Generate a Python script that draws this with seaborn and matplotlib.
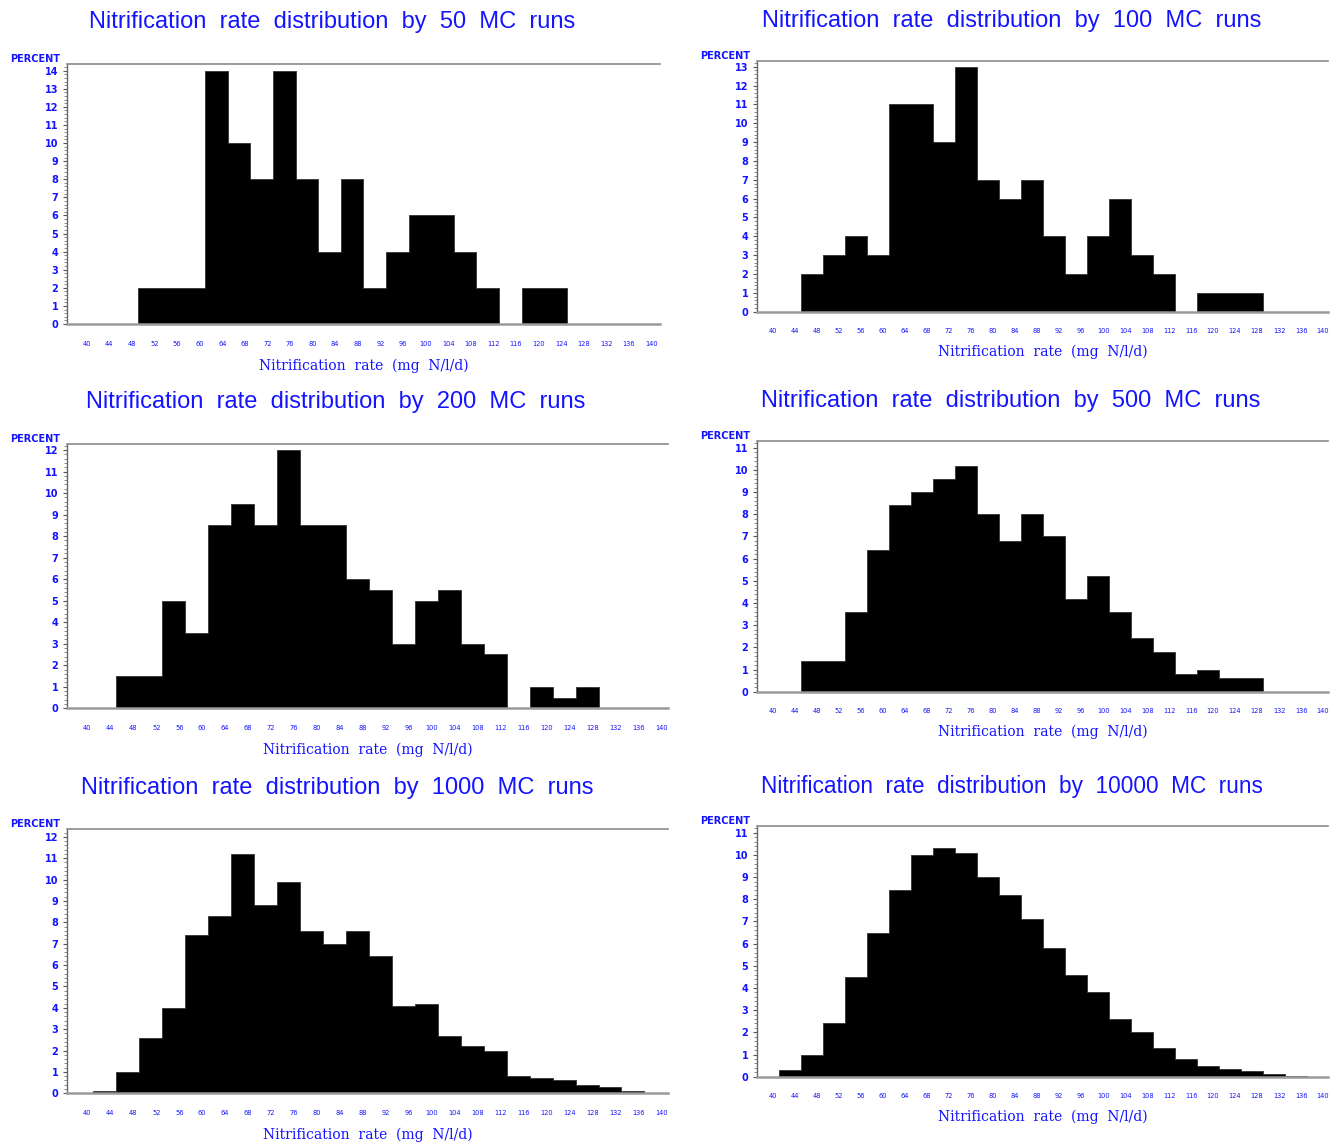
import numpy as np
import pandas as pd
import matplotlib
matplotlib.use("Agg")
import matplotlib.pyplot as plt
from matplotlib.ticker import AutoMinorLocator
import seaborn as sns

# Bin labels on the x axis (mg N/l/d), one bar per label
bin_labels = list(range(40, 144, 4))

# Percent of Monte Carlo runs falling in each bin, by number of runs
pct_50 = [0, 0, 2, 2, 2, 14, 10, 8, 14, 8, 4, 8, 2, 4, 6, 6, 4, 2, 0, 2, 2, 0, 0, 0, 0, 0]
pct_100 = [0, 2, 3, 4, 3, 11, 11, 9, 13, 7, 6, 7, 4, 2, 4, 6, 3, 2, 0, 1, 1, 1, 0, 0, 0, 0]
pct_200 = [0, 1.5, 1.5, 5, 3.5, 8.5, 9.5, 8.5, 12, 8.5, 8.5, 6, 5.5, 3, 5, 5.5, 3, 2.5, 0,
           1, 0.5, 1, 0, 0, 0, 0]
pct_500 = [0, 1.4, 1.4, 3.6, 6.4, 8.4, 9.0, 9.6, 10.2, 8.0, 6.8, 8.0, 7.0, 4.2, 5.2, 3.6,
           2.4, 1.8, 0.8, 1.0, 0.6, 0.6, 0, 0, 0, 0]
pct_1000 = [0.1, 1.0, 2.6, 4.0, 7.4, 8.3, 11.2, 8.8, 9.9, 7.6, 7.0, 7.6, 6.4, 4.1, 4.2, 2.7,
            2.2, 2.0, 0.8, 0.7, 0.6, 0.4, 0.3, 0.1, 0, 0]
pct_10000 = [0.3, 1.0, 2.4, 4.5, 6.5, 8.4, 10.0, 10.3, 10.1, 9.0, 8.2, 7.1, 5.8, 4.6, 3.8,
             2.6, 2.0, 1.3, 0.8, 0.5, 0.35, 0.25, 0.1, 0.05, 0, 0]

runs = [50, 100, 200, 500, 1000, 10000]
series = [pct_50, pct_100, pct_200, pct_500, pct_1000, pct_10000]
y_max = [14, 13, 12, 11, 12, 11]

sns.set_style("white")
plt.rcParams["font.family"] = ["DejaVu Sans"]

BLUE = "#1414ff"
W, H = 1338, 1144
fig = plt.figure(figsize=(W / 100, H / 100), dpi=100)

# axes boxes in pixels: left, top, right, bottom
boxes = [
    (66.7, 64.0, 660.0, 324.0),
    (756.7, 60.7, 1328.0, 311.7),
    (66.7, 444.0, 668.0, 708.3),
    (756.7, 440.7, 1328.0, 691.7),
    (66.7, 829.3, 668.0, 1093.3),
    (756.7, 825.7, 1328.0, 1076.7),
]
xlims = [(36.46, 141.5), (37.0, 140.9), (36.4, 141.1), (37.0, 140.9), (36.4, 141.1), (37.0, 140.9)]
ytop_pad = [0.37, 0.32, 0.28, 0.32, 0.35, 0.32]
title_xy = [(332, 22), (1012, 21), (336, 402), (1011, 401), (337, 788), (1012, 787)]
title_size = [17, 17, 17, 17, 17, 16.3]
xlabel_y = [366, 352, 750, 732, 1135, 1117]

labels = np.array(bin_labels, dtype=float)
centers = labels + 3.0

for i, (n, pct) in enumerate(zip(runs, series)):
    l, t, r, b = boxes[i]
    ax = fig.add_axes([l / W, 1 - b / H, (r - l) / W, (b - t) / H])
    df = pd.DataFrame({"rate": centers, "percent": np.asarray(pct, dtype=float)})
    sns.histplot(data=df, x="rate", weights="percent", binwidth=4,
                 binrange=(labels[0] + 1, labels[-1] + 5), ax=ax, element="step",
                 fill=True, color="black", alpha=1.0, edgecolor="#333333", linewidth=0.6)
    ax.set_xlim(*xlims[i])
    ax.set_ylim(0, y_max[i] + ytop_pad[i])
    ax.set_xticks(bin_labels)
    ax.set_xticklabels([str(v) for v in bin_labels])
    ax.set_yticks(range(0, y_max[i] + 1))
    ax.yaxis.set_minor_locator(AutoMinorLocator(5))
    ax.tick_params(axis="x", length=0, pad=12, labelsize=4.8, labelcolor=BLUE)
    ax.tick_params(axis="y", which="major", length=3, width=0.8, color="#555555",
                   direction="out", pad=3, labelsize=7, labelcolor=BLUE, left=True)
    ax.tick_params(axis="y", which="minor", length=2, width=0.6, color="#777777",
                   direction="out", left=True)
    for lab in ax.get_yticklabels():
        lab.set_fontweight("bold")
    ax.set_xlabel("")
    ax.set_ylabel("")
    ax.spines["right"].set_visible(False)
    ax.spines["top"].set_color("#8a8a8a")
    ax.spines["top"].set_linewidth(1.2)
    ax.spines["bottom"].set_color("#9a9a9a")
    ax.spines["bottom"].set_linewidth(1.8)
    ax.spines["left"].set_color("#666666")
    ax.spines["left"].set_linewidth(1.0)
    ax.text(-0.011, 1.0, "PERCENT", transform=ax.transAxes, ha="right", va="bottom",
            fontsize=7, fontweight="bold", color=BLUE)

    tx, ty = title_xy[i]
    fig.text(tx / W, 1 - ty / H,
             f"Nitrification  rate  distribution  by  {n}  MC  runs",
             ha="center", va="center", fontsize=title_size[i], color=BLUE,
             family=["Liberation Sans", "DejaVu Sans"])
    fig.text(((l + r) / 2) / W, 1 - xlabel_y[i] / H, "Nitrification  rate  (mg  N/l/d)",
             ha="center", va="center", fontsize=10, color=BLUE,
             family=["DejaVu Serif"])

fig.savefig("out.png", dpi=100, facecolor="white")
